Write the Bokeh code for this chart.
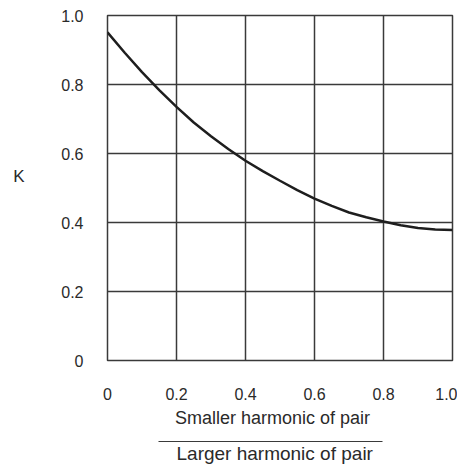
from bokeh.plotting import figure
from bokeh.models import Range1d, FixedTicker, LinearAxis, ColumnDataSource
from bokeh.embed import file_html
from bokeh.resources import INLINE

# Data
ratio = [0.0, 0.05, 0.1, 0.15, 0.2, 0.25, 0.3, 0.35, 0.4, 0.45, 0.5,
         0.55, 0.6, 0.65, 0.7, 0.75, 0.8, 0.85, 0.9, 0.95, 1.0]
k_values = [0.951, 0.892, 0.836, 0.784, 0.735, 0.69, 0.65, 0.613, 0.579, 0.549, 0.521,
            0.494, 0.469, 0.448, 0.429, 0.415, 0.403, 0.392, 0.384, 0.380, 0.378]

x_ticks = [0, 0.2, 0.4, 0.6, 0.8, 1.0]
x_tick_labels = ["0", "0.2", "0.4", "0.6", "0.8", "1.0"]
y_ticks = [0, 0.2, 0.4, 0.6, 0.8, 1.0]
y_tick_labels = ["0", "0.2", "0.4", "0.6", "0.8", "1.0"]

y_label = "K"
x_label_top = "Smaller harmonic of pair"
x_label_bottom = "Larger harmonic of pair"

FONT = "Liberation Sans"
TXT = "#2a2a2a"
GRID = "#3a3a3a"
NBSP = "\u00a0"
W, H = 457, 466

p = figure(width=W, height=H, output_backend="svg", toolbar_location=None,
           x_range=Range1d(0, 1), y_range=Range1d(0, 1),
           min_border_left=107, min_border_right=5, min_border_top=15, min_border_bottom=102)

p.background_fill_color = "white"
p.border_fill_color = "white"
p.outline_line_color = GRID
p.outline_line_width = 1.5

def style_axis(ax):
    ax.axis_line_color = None
    ax.major_tick_line_color = None
    ax.minor_tick_line_color = None
    ax.major_label_text_font = FONT
    ax.major_label_text_font_size = "16px"
    ax.major_label_text_color = TXT
    ax.axis_label_text_font = FONT
    ax.axis_label_text_font_style = "normal"
    ax.axis_label_text_font_size = "18px"
    ax.axis_label_text_color = TXT
    ax.major_tick_out = 0
    ax.major_tick_in = 0
    ax.minor_tick_out = 0
    ax.minor_tick_in = 0

for ax, ticks, labels in ((p.xaxis[0], x_ticks, x_tick_labels), (p.yaxis[0], y_ticks, y_tick_labels)):
    style_axis(ax)
    ax.ticker = FixedTicker(ticks=ticks)
    ax.major_label_overrides = {t: l for t, l in zip(ticks, labels)}

p.yaxis.major_label_standoff = 24
p.xaxis.major_label_standoff = 27
p.xaxis.axis_label = x_label_top + NBSP * 3
p.xaxis.axis_label_standoff = 5

# invisible spacer (blank label) + fraction bar + denominator below the x axis
spacer = LinearAxis(ticker=FixedTicker(ticks=[]), axis_label=NBSP)
style_axis(spacer)
spacer.axis_label_text_font_size = "6px"
spacer.axis_label_standoff = 2
p.add_layout(spacer, "below")

denom = LinearAxis(ticker=FixedTicker(ticks=[]), bounds=(0.148, 0.797),
                   axis_label=x_label_bottom + NBSP * 2)
style_axis(denom)
denom.axis_line_color = GRID
denom.axis_line_width = 1.2
denom.axis_label_standoff = 1
denom.axis_label_text_font_size = "19px"
p.add_layout(denom, "below")

# "K" label on the far left
kax = LinearAxis(ticker=FixedTicker(ticks=[]), axis_label=y_label + "\n")
style_axis(kax)
kax.axis_label_orientation = "horizontal"
kax.axis_label_text_font_size = "17px"
kax.axis_label_text_baseline = "middle"
kax.axis_label_standoff = 34
p.add_layout(kax, "left")

p.xgrid.ticker = FixedTicker(ticks=x_ticks)
p.ygrid.ticker = FixedTicker(ticks=y_ticks)
for g in (p.xgrid[0], p.ygrid[0]):
    g.grid_line_color = GRID
    g.grid_line_width = 1.5

src = ColumnDataSource(data=dict(x=ratio, y=k_values))
p.line("x", "y", source=src, line_color="#1e1e1e", line_width=2.5)

open("out.html", "w").write(file_html(p, INLINE))
